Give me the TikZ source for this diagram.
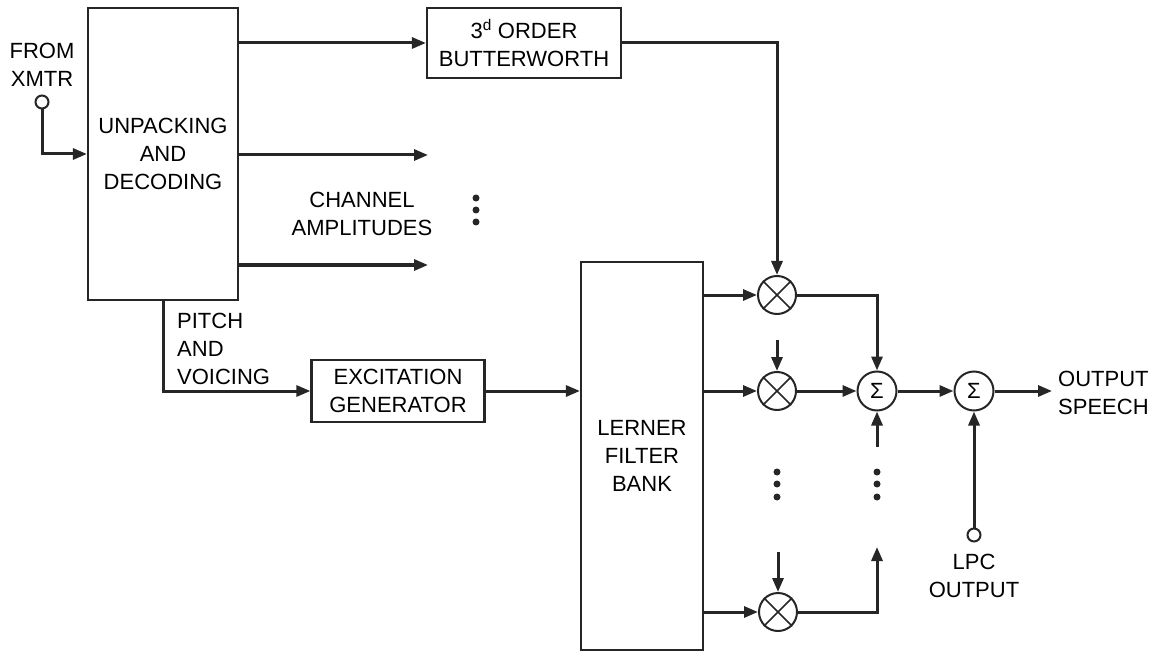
\documentclass[tikz,border=0pt]{standalone}
\usepackage{fontspec}
\setmainfont{Liberation Sans}
\usetikzlibrary{arrows.meta}
\newcommand\lbl{\fontsize{22}{28}\selectfont}
\begin{document}
\begin{tikzpicture}[x=1pt,y=-1pt,
  conn/.style={line width=3pt, draw=black!85},
  arr/.style={conn, -{Triangle[length=14pt,width=11pt]}},
  box/.style={draw=black!85, line width=2.2pt, inner sep=0pt, align=center, font=\lbl},
  mult/.style={circle, draw=black!85, line width=2pt, minimum size=38pt, inner sep=0pt},
  summ/.style={circle, draw=black!85, line width=2pt, minimum size=39pt, inner sep=0pt, font=\fontsize{22}{22}\selectfont},
  term/.style={circle, draw=black!85, line width=2pt, minimum size=13pt, inner sep=0pt, fill=white},
  lab/.style={align=center, font=\lbl, inner sep=0pt},
  dotm/.style={circle, fill=black!85, minimum size=7pt, inner sep=0pt}
]
\useasboundingbox (0,0) rectangle (1169,652);

% blocks
\node[box, minimum width=150pt, minimum height=292pt] (unpack) at (163,154) {UNPACKING\\AND\\DECODING};
\node[box, minimum width=194pt, minimum height=70pt] (butter) at (524,43) {3\textsuperscript{d} ORDER\\BUTTERWORTH};
\node[box, minimum width=173pt, minimum height=62pt] (excit) at (398,391) {EXCITATION\\GENERATOR};
\node[box, minimum width=122pt, minimum height=388pt] (lerner) at (642,456) {LERNER\\FILTER\\BANK};

% multipliers and summers
\node[mult] (m1) at (777,295) {};
\node[mult] (m2) at (777,391) {};
\node[mult] (m3) at (778,612) {};
\foreach \m in {m1,m2,m3}{
  \draw[line width=1.5pt, draw=black!85] (\m.45) -- (\m.225);
  \draw[line width=1.5pt, draw=black!85] (\m.135) -- (\m.315);
}
\node[summ] (s1) at (877,391) {Σ};
\node[summ] (s2) at (974,391) {Σ};

% terminals
\node[term] (xmtr) at (42,102) {};
\node[term] (lpc) at (974,535) {};

% labels
\node[lab] (lfrom) at (42,65) {FROM\\XMTR};
\node[lab] (lchan) at (362,214) {CHANNEL\\AMPLITUDES};
\node[lab, anchor=west, align=left] (lpitch) at (177,349) {PITCH\\AND\\VOICING};
\node[lab, anchor=west, align=left] (lout) at (1058,393) {OUTPUT\\SPEECH};
\node[lab] (llpc) at (974,576) {LPC\\OUTPUT};

% dots
\foreach \y [count=\i] in {198,210,222}{\node[dotm] (da\i) at (476,\y) {};}
\foreach \y [count=\i] in {472,484,497}{\node[dotm] (db\i) at (777,\y) {};}
\foreach \y [count=\i] in {472,484,497}{\node[dotm] (dc\i) at (877,\y) {};}

% free ends
\coordinate (c2) at (428,155);
\coordinate (c3) at (428,265);
\coordinate (m2in) at (777,340);
\coordinate (m3in) at (778,552);
\coordinate (s1in) at (877,447);
\coordinate (m3up) at (877,547);
\coordinate (spout) at (1052,391);

% connectors
\draw[arr] (xmtr.south) |- (unpack.west);
\draw[arr] (unpack.east |- butter.west) -- (butter.west);
\draw[arr] (unpack.east |- c2) -- (c2);
\draw[arr] (unpack.east |- c3) -- (c3);
\draw[arr] (unpack.south) |- (excit.west);
\draw[arr] (excit.east) -- (excit.east -| lerner.west);
\draw[arr] (butter.east) -| (m1.north);
\draw[arr] (m1 -| lerner.east) -- (m1.west);
\draw[arr] (m2 -| lerner.east) -- (m2.west);
\draw[arr] (m3 -| lerner.east) -- (m3.west);
\draw[arr] (m2in) -- (m2.north);
\draw[arr] (m3in) -- (m3.north);
\draw[arr] (m1.east) -| (s1.north);
\draw[arr] (m2.east) -- (s1.west);
\draw[arr] (s1in) -- (s1.south);
\draw[arr] (m3.east) -| (m3up);
\draw[arr] (s1.east) -- (s2.west);
\draw[arr] (s2.east) -- (spout);
\draw[arr] (lpc.north) -- (s2.south);
\end{tikzpicture}
\end{document}
